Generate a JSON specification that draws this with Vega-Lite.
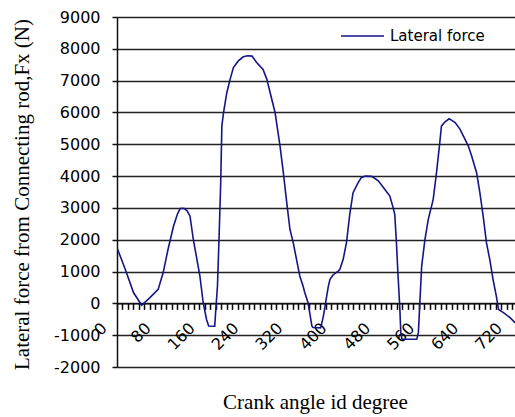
{
  "$schema": "https://vega.github.io/schema/vega-lite/v6.json",
  "width": 398,
  "height": 350,
  "autosize": {"type": "none"},
  "padding": {"left": 117, "top": 17, "right": 0, "bottom": 50},
  "background": "white",
  "config": {"view": {"stroke": null}, "font": "DejaVu Sans"},
  "data": {
    "values": [
      {"angle": 0, "force": 1750}, {"angle": 15, "force": 1070}, {"angle": 30, "force": 340},
      {"angle": 45, "force": -60}, {"angle": 60, "force": 180}, {"angle": 75, "force": 440},
      {"angle": 84, "force": 960}, {"angle": 93, "force": 1700}, {"angle": 103, "force": 2430},
      {"angle": 110, "force": 2800}, {"angle": 115, "force": 2980}, {"angle": 122, "force": 2990},
      {"angle": 128, "force": 2900}, {"angle": 133, "force": 2740}, {"angle": 139, "force": 2010},
      {"angle": 145, "force": 1440}, {"angle": 151, "force": 860}, {"angle": 157, "force": 20},
      {"angle": 163, "force": -500}, {"angle": 167, "force": -710}, {"angle": 178, "force": -720},
      {"angle": 180, "force": -190}, {"angle": 183, "force": 540}, {"angle": 186, "force": 2110},
      {"angle": 188, "force": 3270}, {"angle": 189, "force": 3850}, {"angle": 191, "force": 5570},
      {"angle": 194, "force": 5990}, {"angle": 200, "force": 6620}, {"angle": 206, "force": 7040},
      {"angle": 212, "force": 7410}, {"angle": 221, "force": 7620}, {"angle": 230, "force": 7750},
      {"angle": 238, "force": 7780}, {"angle": 246, "force": 7770}, {"angle": 254, "force": 7580},
      {"angle": 266, "force": 7350}, {"angle": 273, "force": 7040}, {"angle": 279, "force": 6620},
      {"angle": 288, "force": 5990}, {"angle": 297, "force": 4940}, {"angle": 303, "force": 4110},
      {"angle": 309, "force": 3200}, {"angle": 315, "force": 2330}, {"angle": 321, "force": 1910},
      {"angle": 327, "force": 1380}, {"angle": 333, "force": 860}, {"angle": 339, "force": 540},
      {"angle": 342, "force": 340}, {"angle": 348, "force": 20}, {"angle": 355, "force": -710},
      {"angle": 357, "force": -760}, {"angle": 371, "force": -770}, {"angle": 376, "force": -400},
      {"angle": 379, "force": -85}, {"angle": 382, "force": 230}, {"angle": 385, "force": 544},
      {"angle": 388, "force": 754}, {"angle": 394, "force": 900}, {"angle": 403, "force": 1015},
      {"angle": 406, "force": 1069}, {"angle": 412, "force": 1383}, {"angle": 418, "force": 1908},
      {"angle": 424, "force": 2800}, {"angle": 430, "force": 3480}, {"angle": 439, "force": 3790},
      {"angle": 445, "force": 3950}, {"angle": 452, "force": 4000}, {"angle": 464, "force": 3990},
      {"angle": 476, "force": 3850}, {"angle": 488, "force": 3580}, {"angle": 497, "force": 3370},
      {"angle": 503, "force": 3010}, {"angle": 506, "force": 2800}, {"angle": 509, "force": 1908},
      {"angle": 512, "force": 860}, {"angle": 515, "force": -85}, {"angle": 517, "force": -920},
      {"angle": 519, "force": -1130}, {"angle": 546, "force": -1130}, {"angle": 549, "force": -920},
      {"angle": 552, "force": 126}, {"angle": 555, "force": 1172}, {"angle": 561, "force": 2011},
      {"angle": 567, "force": 2640}, {"angle": 576, "force": 3269}, {"angle": 582, "force": 4108},
      {"angle": 588, "force": 5050}, {"angle": 591, "force": 5570}, {"angle": 597, "force": 5700},
      {"angle": 605, "force": 5800}, {"angle": 610, "force": 5750}, {"angle": 616, "force": 5680},
      {"angle": 625, "force": 5470}, {"angle": 634, "force": 5155}, {"angle": 640, "force": 4944},
      {"angle": 646, "force": 4630}, {"angle": 655, "force": 4108}, {"angle": 661, "force": 3480},
      {"angle": 667, "force": 2744}, {"angle": 673, "force": 1908}, {"angle": 679, "force": 1383},
      {"angle": 685, "force": 754}, {"angle": 691, "force": 229}, {"angle": 695, "force": -190},
      {"angle": 704, "force": -290}, {"angle": 716, "force": -450}, {"angle": 725, "force": -610}
    ]
  },
  "mark": {"type": "line", "strokeWidth": 1.6, "clip": true},
  "encoding": {
    "x": {
      "field": "angle",
      "type": "quantitative",
      "scale": {"domain": [0, 725], "nice": false, "zero": false},
      "axis": {
        "values": [0, 10, 20, 30, 40, 50, 60, 70, 80, 90, 100, 110, 120, 130, 140, 150, 160, 170, 180, 190, 200, 210, 220, 230, 240, 250, 260, 270, 280, 290, 300, 310, 320, 330, 340, 350, 360, 370, 380, 390, 400, 410, 420, 430, 440, 450, 460, 470, 480, 490, 500, 510, 520, 530, 540, 550, 560, 570, 580, 590, 600, 610, 620, 630, 640, 650, 660, 670, 680, 690, 700, 710, 720],
        "labelExpr": "datum.value % 80 === 0 ? '' + datum.value : ''",
        "offset": -63.64,
        "grid": false,
        "ticks": true,
        "domainColor": "#111111",
        "domainWidth": 1.5,
        "tickColor": "#000000",
        "tickSize": 6,
        "tickWidth": 1.5,
        "tickOpacity": 1,
        "labelAngle": -45,
        "labelAlign": "right",
        "labelBaseline": "middle",
        "labelOffset": -13,
        "labelPadding": 16,
        "labelFont": "DejaVu Sans",
        "labelFontSize": 16,
        "labelColor": "#000000",
        "labelOverlap": false,
        "labelBound": false,
        "labelFlush": false,
        "title": "Crank angle id degree",
        "titleFont": "Liberation Serif",
        "titleFontSize": 21,
        "titleFontWeight": "normal",
        "titleColor": "#000000",
        "titleX": 198,
        "titleY": 99,
        "titleAlign": "center",
        "titleBaseline": "middle"
      }
    },
    "y": {
      "field": "force",
      "type": "quantitative",
      "scale": {"domain": [-2000, 9000], "nice": false},
      "axis": {
        "values": [-2000, -1000, 0, 1000, 2000, 3000, 4000, 5000, 6000, 7000, 8000, 9000],
        "labelExpr": "'' + datum.value",
        "grid": true,
        "gridColor": "#222222",
        "gridWidth": 1.5,
        "gridOpacity": 1,
        "domainColor": "#111111",
        "domainWidth": 1.5,
        "tickColor": "#111111",
        "tickSize": 5,
        "tickWidth": 1.5,
        "labelPadding": 12,
        "labelFont": "DejaVu Sans",
        "labelFontSize": 16,
        "labelColor": "#000000",
        "labelOverlap": false,
        "title": "Lateral force from Connecting rod,Fx (N)",
        "titleFont": "Liberation Serif",
        "titleFontSize": 21,
        "titleFontWeight": "normal",
        "titleColor": "#000000",
        "titleAngle": -90,
        "titleX": -95,
        "titleY": 177,
        "titleAlign": "center",
        "titleBaseline": "middle"
      }
    },
    "color": {
      "datum": "Lateral force",
      "type": "nominal",
      "scale": {"range": ["#15158a"]},
      "legend": {
        "orient": "none",
        "legendX": 223,
        "legendY": -3.5,
        "title": null,
        "padding": 0,
        "symbolType": "stroke",
        "symbolSize": 1849,
        "symbolStrokeWidth": 1.6,
        "labelFont": "DejaVu Sans",
        "labelFontSize": 15,
        "labelColor": "#000000",
        "labelOffset": 5
      }
    }
  }
}
